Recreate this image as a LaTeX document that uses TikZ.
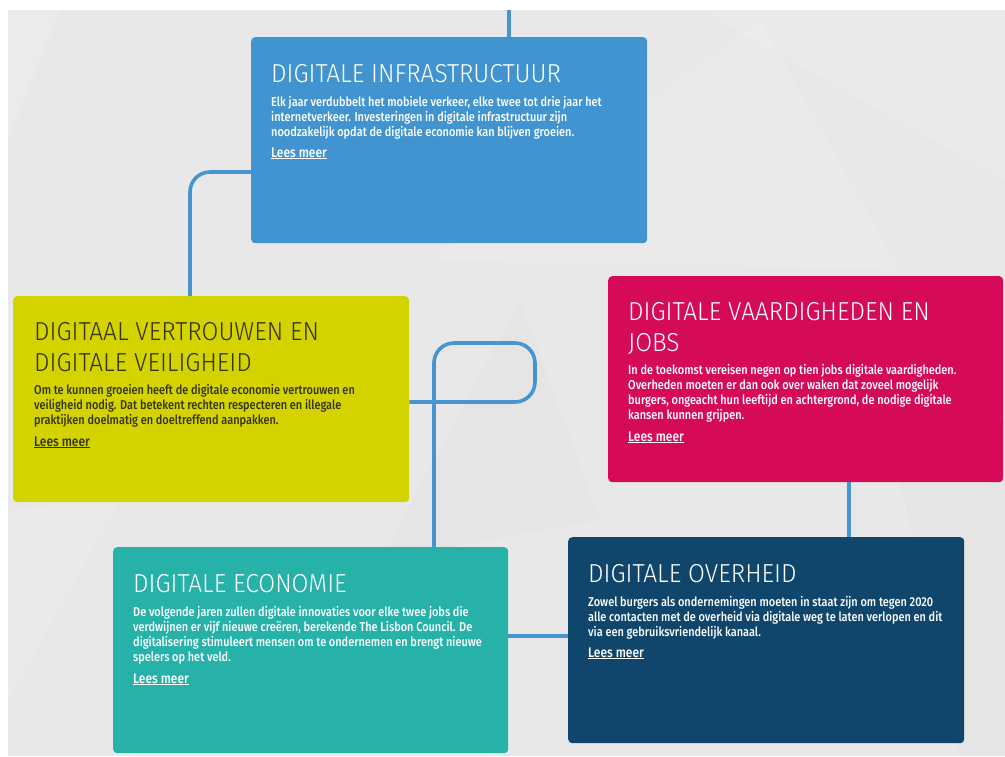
\documentclass[tikz,border=0pt]{standalone}
\usepackage{fontspec}
\setmainfont[FakeStretch=0.855]{Fira Sans Medium}
\newfontfamily\titlefont[FakeStretch=0.94]{Fira Sans Light}
\definecolor{bg}{HTML}{E8E8E8}
\definecolor{lineblue}{HTML}{4596D0}
\definecolor{cinfra}{HTML}{4194CF}
\definecolor{cvertr}{HTML}{D4D300}
\definecolor{cvaard}{HTML}{D50B59}
\definecolor{cecon}{HTML}{26B2A9}
\definecolor{coverh}{HTML}{11466C}
\definecolor{darktext}{HTML}{33330F}
\tikzset{
  box/.style={rounded corners=4pt, inner sep=0pt, anchor=north west, minimum width=396pt, minimum height=206pt},
  conn/.style={draw=lineblue, line width=3.6pt, rounded corners=20pt},
  ttl/.style={font={\titlefont\fontsize{26}{31}\selectfont}, anchor=base west, inner sep=0pt, align=left},
  bdy/.style={font={\fontsize{12.8}{15}\selectfont}, anchor=base west, inner sep=0pt, align=left},
  lees/.style={font={\fontsize{14}{15}\selectfont}, anchor=base west, inner sep=0pt},
}
\begin{document}
\begin{tikzpicture}[x=1pt,y=-1pt]
\useasboundingbox (0,0) rectangle (1005,756);
\fill[white] (0,0) rectangle (1005,756);
\fill[bg] (8,10) rectangle (1005,756);
% faint background facets
\fill[white,opacity=0.15] (8,10) -- (60,10) -- (8,140) -- cycle;
\fill[white,opacity=0.12] (700,10) -- (1005,10) -- (1005,180) -- cycle;
\fill[white,opacity=0.10] (430,260) -- (760,20) -- (900,270) -- cycle;
\fill[black,opacity=0.012] (520,300) -- (600,520) -- (380,560) -- cycle;
\fill[white,opacity=0.12] (8,510) -- (120,500) -- (8,700) -- cycle;
\fill[black,opacity=0.012] (900,480) -- (1005,420) -- (1005,756) -- (960,756) -- cycle;

% boxes
\node[box, fill=cinfra] (infra) at (251,37) {};
\node[box, fill=cvertr] (vertr) at (13,296) {};
\node[box, fill=cvaard, minimum width=395pt] (vaard) at (608,276) {};
\node[box, fill=cecon, minimum width=395pt] (econ) at (113,547) {};
\node[box, fill=coverh] (overh) at (568,537) {};

% connector helper coordinates
\coordinate (topend) at (509,10);
\coordinate (j1) at (190,172);
\coordinate (lr) at (535,343);
\coordinate (ll) at (434,402);
\coordinate (j3) at (849,0);
\coordinate (j4) at (0,636);

% connectors
\draw[conn] (topend) -- (infra.north -| topend);
\draw[conn] (infra.west |- j1) -| (vertr.north -| j1);
\draw[conn] (vertr.east |- ll) -| (lr) -| (econ.north -| ll);
\draw[conn] (vaard.south -| j3) -- (overh.north -| j3);
\draw[conn] (econ.east |- j4) -- (overh.west |- j4);

% texts (multi-line nodes are placed by the baseline of their last line)
\node[ttl, text=white] (infra-t) at (271,82) {DIGITALE INFRASTRUCTUUR};
\node[bdy, text=white] (infra-b) at (271,136) {Elk jaar verdubbelt het mobiele verkeer, elke twee tot drie jaar het\\internetverkeer. Investeringen in digitale infrastructuur zijn\\noodzakelijk opdat de digitale economie kan blijven groeien.};
\node[lees, text=white] (infra-l) at (271,157) {\underline{Lees meer}};

\node[ttl, text=darktext] (vertr-t) at (34,371) {DIGITAAL VERTROUWEN EN\\DIGITALE VEILIGHEID};
\node[bdy, text=darktext] (vertr-b) at (34,424) {Om te kunnen groeien heeft de digitale economie vertrouwen en\\veiligheid nodig. Dat betekent rechten respecteren en illegale\\praktijken doelmatig en doeltreffend aanpakken.};
\node[lees, text=darktext] (vertr-l) at (34,446) {\underline{Lees meer}};

\node[ttl, text=white] (vaard-t) at (628,351) {DIGITALE VAARDIGHEDEN EN\\JOBS};
\node[bdy, text=white] (vaard-b) at (628,419) {In de toekomst vereisen negen op tien jobs digitale vaardigheden.\\Overheden moeten er dan ook over waken dat zoveel mogelijk\\burgers, ongeacht hun leeftijd en achtergrond, de nodige digitale\\kansen kunnen grijpen.};
\node[lees, text=white] (vaard-l) at (628,441) {\underline{Lees meer}};

\node[ttl, text=white] (econ-t) at (133,592) {DIGITALE ECONOMIE};
\node[bdy, text=white] (econ-b) at (133,661) {De volgende jaren zullen digitale innovaties voor elke twee jobs die\\verdwijnen er vijf nieuwe creëren, berekende The Lisbon Council. De\\digitalisering stimuleert mensen om te ondernemen en brengt nieuwe\\spelers op het veld.};
\node[lees, text=white] (econ-l) at (133,683) {\underline{Lees meer}};

\node[ttl, text=white] (overh-t) at (588,582) {DIGITALE OVERHEID};
\node[bdy, text=white] (overh-b) at (588,636) {Zowel burgers als ondernemingen moeten in staat zijn om tegen 2020\\alle contacten met de overheid via digitale weg te laten verlopen en dit\\via een gebruiksvriendelijk kanaal.};
\node[lees, text=white] (overh-l) at (588,657) {\underline{Lees meer}};
\end{tikzpicture}
\end{document}
